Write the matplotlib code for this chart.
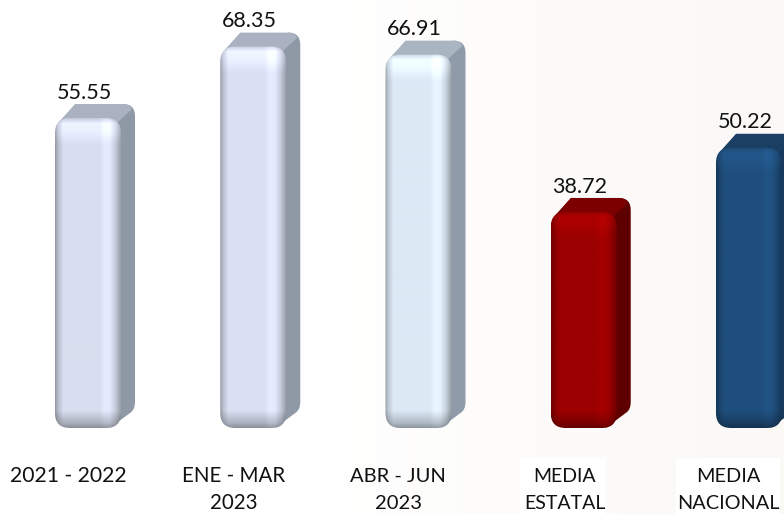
import matplotlib
matplotlib.use("Agg")
import matplotlib.pyplot as plt
import numpy as np
from matplotlib.path import Path
from matplotlib.patches import PathPatch, Rectangle
from matplotlib.colors import to_rgb

categories = ["2021 - 2022", "ENE - MAR\n2023", "ABR - JUN\n2023", "MEDIA\nESTATAL", "MEDIA\nNACIONAL"]
values = [55.55, 68.35, 66.91, 38.72, 50.22]
front_colors = ["#d8deef", "#dae0f2", "#dce9f5", "#9c0000", "#1f4e7c"]
side_colors = ["#8f99a6", "#8f99a6", "#8f9ba8", "#5e0000", "#173a5e"]
top_colors = ["#aab1c0", "#aab1c0", "#aab5c2", "#7c0000", "#1b3f63"]
label_x_px = [68, 234, 398, 565, 728]
label_sizes = [15.2, 14.8, 14.5, 14.0, 14.3]

W, H = 784, 514
sx = 165.25   # px per category
sy = 5.58     # px per unit
x0_px = 88
y0_px = 428

fig = plt.figure(figsize=(W / 100, H / 100), dpi=100)
ax = fig.add_axes([0, 0, 1, 1])
xlim = ((0 - x0_px) / sx, (W - x0_px) / sx)
ylim = ((y0_px - H) / sy, y0_px / sy)
ax.axis("off")

# faint warm background towards the right
bg_fade = np.clip(np.linspace(-0.6, 1, 200), 0, 1)[None, :, None]
bg = np.ones((2, 200, 3)) * (1 - bg_fade) + np.array(to_rgb("#fbf9f6"))[None, None, :] * bg_fade
ax.imshow(bg, extent=[*xlim, *ylim], aspect="auto", zorder=0)

half = 33 / sx
rx, ry = 15 / sx, 15 / sy


def px(x, y):
    return x / sx, y / sy


def rounded(l, r, b, t):
    verts = [(l + rx, b), (r - rx, b), (r, b), (r, b + ry), (r, t - ry), (r, t), (r - rx, t),
             (l + rx, t), (l, t), (l, t - ry), (l, b + ry), (l, b), (l + rx, b), (l + rx, b)]
    codes = [Path.MOVETO, Path.LINETO, Path.CURVE3, Path.CURVE3, Path.LINETO, Path.CURVE3, Path.CURVE3,
             Path.LINETO, Path.CURVE3, Path.CURVE3, Path.LINETO, Path.CURVE3, Path.CURVE3, Path.CLOSEPOLY]
    return Path(verts, codes)


for i, v in enumerate(values):
    l, r = i - half, i + half

    def at(base_x, ox, base_y, oy):
        a, b = px(ox, oy)
        return (base_x + a, base_y + b)

    # extruded side, up and to the right
    side = [at(r, -11, 0, 0), at(r, 9, 0, 15), at(r, 14, 0, 18), at(r, 14, 0, 26),
            at(r, 14, v, 2), at(r, 14, v, 14), at(r, 2, v, 14),
            at(r, -16, v, 0), at(r, -11, 0, 0)]
    side_codes = [Path.MOVETO, Path.LINETO, Path.CURVE3, Path.CURVE3,
                  Path.LINETO, Path.CURVE3, Path.CURVE3, Path.LINETO, Path.CLOSEPOLY]
    ax.add_patch(PathPatch(Path(side, side_codes), fc=side_colors[i], ec="none", zorder=2))

    top = [at(l, 3, v, -5), at(l, 20, v, 14), at(r, 2, v, 14), at(r, 9, v, 14), at(r, 11, v, 9),
           at(r, -3, v, -4), at(l, 3, v, -5)]
    top_codes = [Path.MOVETO, Path.LINETO, Path.LINETO, Path.CURVE3, Path.CURVE3, Path.LINETO, Path.CLOSEPOLY]
    ax.add_patch(PathPatch(Path(top, top_codes), fc=top_colors[i], ec="none", zorder=3))

    # front face with shading
    ny, nx = int(v * sy), 66
    u = np.linspace(0, 1, nx)
    prof_x = np.interp(u, [0, 0.04, 0.12, 0.2, 0.68, 0.76, 0.84, 0.93, 1],
                       [0.70, 0.85, 1.0, 1.0, 1.0, 1.06, 1.05, 0.9, 0.72])
    py = np.arange(ny)
    prof_y = np.interp(py, [0, 5, 12, 26], [0.92, 1.10, 1.09, 1]) * np.interp(ny - py, [0, 6, 18], [0.62, 0.8, 1])
    shade = prof_y[:, None] * prof_x[None, :]
    img = np.clip(shade[:, :, None] * np.array(to_rgb(front_colors[i])), 0, 1)
    im = ax.imshow(img, extent=[l, r, 0, v], aspect="auto", origin="upper", zorder=4, interpolation="bilinear")
    clip = PathPatch(rounded(l, r, 0, v), transform=ax.transData, fc="none", ec="none", zorder=4)
    ax.add_patch(clip)
    im.set_clip_path(clip)

    ax.annotate(f"{v:.2f}", (i, v), xytext=(-4 * 0.72, 14 * 0.72 + 1), textcoords="offset points",
                ha="center", va="bottom", fontsize=15.5, family="Lato", color="#111111", zorder=6,
                annotation_clip=False)

# white patches behind the last two labels
ax.add_patch(Rectangle(px(520 - x0_px, y0_px - 514), 85 / sx, 56 / sy, fc="white", ec="none", zorder=1))
ax.add_patch(Rectangle(px(676 - x0_px, y0_px - 514), 104 / sx, 56 / sy, fc="white", ec="none", zorder=1))

ax.set_xlim(*xlim)
ax.set_ylim(*ylim)

for i, name in enumerate(categories):
    for j, line in enumerate(name.split("\n")):
        fig.text(label_x_px[i] / W, 1 - (482 + 27 * j) / H, line, ha="center", va="baseline",
                 fontsize=label_sizes[i], family="Lato", color="#111111", zorder=7)

fig.savefig("out.png", dpi=100)
